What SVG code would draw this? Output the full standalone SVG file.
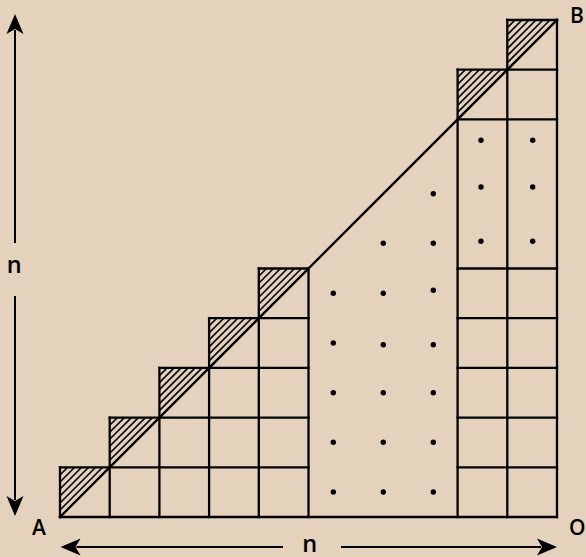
<svg xmlns="http://www.w3.org/2000/svg" width="586" height="557" viewBox="0 0 586 557">
<style>
.bg{fill:#e4d2bc}
.ln{stroke:#000;stroke-width:2.3;fill:none;stroke-linecap:square}
.ht{stroke:#000;stroke-width:1.6;fill:none}
.ar{stroke:#000;stroke-width:2;fill:none}
.dot{fill:#000}
.lbl{font-family:"Open Sans","DejaVu Sans",sans-serif;fill:#000;font-weight:600}
.cap{font-size:21px}
.n{font-size:23.5px}
</style>
<defs>
<g id="hatchCell">
<line class="ht" x1="0" y1="42.7" x2="42.7" y2="0"/>
<line class="ht" x1="0" y1="35.7" x2="35.7" y2="0"/>
<line class="ht" x1="0" y1="28.7" x2="28.7" y2="0"/>
<line class="ht" x1="0" y1="21.7" x2="21.7" y2="0"/>
<line class="ht" x1="0" y1="14.7" x2="14.7" y2="0"/>
<line class="ht" x1="0" y1="7.7" x2="7.7" y2="0"/>
</g>
<marker id="arr" markerUnits="userSpaceOnUse" markerWidth="40" markerHeight="40" viewBox="-10 -10 40 40" refX="0" refY="0" orient="auto">
<path d="M-4,-8.5 L16,0 L-4,8.5 L1,0 Z" fill="#000"/>
</marker>
</defs>
<rect class="bg" x="0" y="0" width="586" height="557"/>
<g id="hatching">
<use href="#hatchCell" x="60" y="467.3"/>
<use href="#hatchCell" x="109.7" y="417.6"/>
<use href="#hatchCell" x="159.4" y="367.9"/>
<use href="#hatchCell" x="209.1" y="318.2"/>
<use href="#hatchCell" x="258.8" y="268.5"/>
<use href="#hatchCell" x="457.6" y="69.7"/>
<use href="#hatchCell" x="507.3" y="20"/>
</g>
<g id="grid">
<line class="ln" x1="60" y1="517" x2="557" y2="517"/>
<line class="ln" x1="60" y1="467.3" x2="308.5" y2="467.3"/>
<line class="ln" x1="109.7" y1="417.6" x2="308.5" y2="417.6"/>
<line class="ln" x1="159.4" y1="367.9" x2="308.5" y2="367.9"/>
<line class="ln" x1="209.1" y1="318.2" x2="308.5" y2="318.2"/>
<line class="ln" x1="258.8" y1="268.5" x2="308.5" y2="268.5"/>
<line class="ln" x1="457.6" y1="467.3" x2="557" y2="467.3"/>
<line class="ln" x1="457.6" y1="417.6" x2="557" y2="417.6"/>
<line class="ln" x1="457.6" y1="367.9" x2="557" y2="367.9"/>
<line class="ln" x1="457.6" y1="318.2" x2="557" y2="318.2"/>
<line class="ln" x1="457.6" y1="268.5" x2="557" y2="268.5"/>
<line class="ln" x1="457.6" y1="119.4" x2="557" y2="119.4"/>
<line class="ln" x1="457.6" y1="69.7" x2="557" y2="69.7"/>
<line class="ln" x1="507.3" y1="20" x2="557" y2="20"/>
<line class="ln" x1="60" y1="467.3" x2="60" y2="517"/>
<line class="ln" x1="109.7" y1="417.6" x2="109.7" y2="517"/>
<line class="ln" x1="159.4" y1="367.9" x2="159.4" y2="517"/>
<line class="ln" x1="209.1" y1="318.2" x2="209.1" y2="517"/>
<line class="ln" x1="258.8" y1="268.5" x2="258.8" y2="517"/>
<line class="ln" x1="308.5" y1="268.5" x2="308.5" y2="517"/>
<line class="ln" x1="457.6" y1="69.7" x2="457.6" y2="517"/>
<line class="ln" x1="507.3" y1="20" x2="507.3" y2="517"/>
<line class="ln" x1="557" y1="20" x2="557" y2="517"/>
<line class="ln" x1="60" y1="517" x2="557" y2="20"/>
</g>
<g id="dots">
<circle class="dot" cx="333.3" cy="492" r="2.7"/>
<circle class="dot" cx="333.3" cy="442.3" r="2.7"/>
<circle class="dot" cx="333.3" cy="392.7" r="2.7"/>
<circle class="dot" cx="333.3" cy="343" r="2.7"/>
<circle class="dot" cx="333.3" cy="293.3" r="2.7"/>
<circle class="dot" cx="383.3" cy="492" r="2.7"/>
<circle class="dot" cx="383.3" cy="442.3" r="2.7"/>
<circle class="dot" cx="383.3" cy="392.7" r="2.7"/>
<circle class="dot" cx="383.3" cy="344.7" r="2.7"/>
<circle class="dot" cx="383.3" cy="293.3" r="2.7"/>
<circle class="dot" cx="383.3" cy="243.3" r="2.7"/>
<circle class="dot" cx="433.3" cy="492" r="2.7"/>
<circle class="dot" cx="433.3" cy="442.3" r="2.7"/>
<circle class="dot" cx="433.3" cy="392.7" r="2.7"/>
<circle class="dot" cx="433.3" cy="344.7" r="2.7"/>
<circle class="dot" cx="433.3" cy="290.3" r="2.7"/>
<circle class="dot" cx="433.3" cy="243.3" r="2.7"/>
<circle class="dot" cx="433.3" cy="193.7" r="2.7"/>
<circle class="dot" cx="481" cy="140.3" r="2.7"/>
<circle class="dot" cx="481" cy="187" r="2.7"/>
<circle class="dot" cx="481" cy="241.3" r="2.7"/>
<circle class="dot" cx="532.7" cy="140.3" r="2.7"/>
<circle class="dot" cx="532.7" cy="187" r="2.7"/>
<circle class="dot" cx="532.7" cy="241.3" r="2.7"/>
</g>
<g id="arrows">
<line class="ar" x1="15" y1="243" x2="15" y2="30" marker-end="url(#arr)"/>
<line class="ar" x1="15" y1="296" x2="15" y2="500" marker-end="url(#arr)"/>
<line class="ar" x1="283" y1="547" x2="76.5" y2="547" marker-end="url(#arr)"/>
<line class="ar" x1="341" y1="547" x2="541" y2="547" marker-end="url(#arr)"/>
</g>
<g id="labels">
<text class="lbl n" x="14.3" y="272.7" text-anchor="middle">n</text>
<text class="lbl n" x="309.7" y="552" text-anchor="middle">n</text>
<text class="lbl cap" x="39" y="535" text-anchor="middle">A</text>
<text class="lbl cap" x="570" y="23">B</text>
<text class="lbl cap" x="569" y="535">O</text>
</g>
</svg>
